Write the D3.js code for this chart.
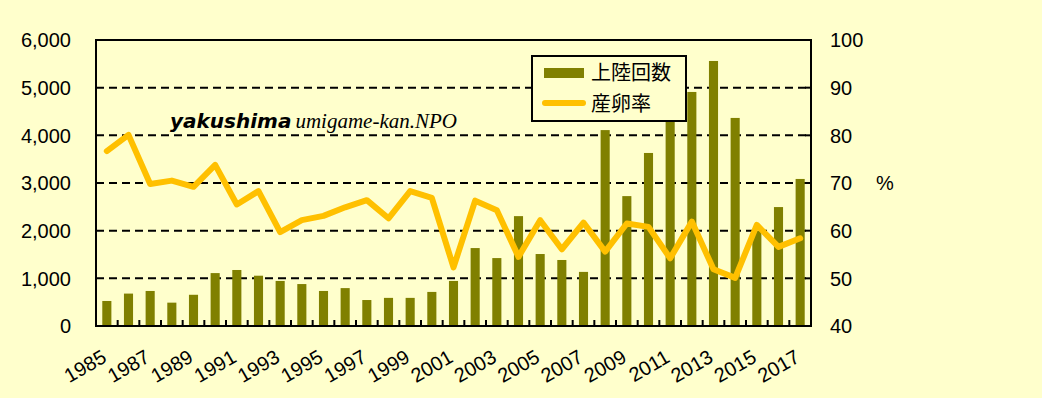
<!DOCTYPE html>
<html>
<head>
<meta charset="utf-8">
<script src="https://cdn.jsdelivr.net/npm/d3@7"></script>
<style>
  html, body { margin: 0; padding: 0; background: #FFFFCC; }
  svg { display: block; }
  text { font-family: "Liberation Sans", Arial, sans-serif; fill: #000; }
</style>
</head>
<body>
<div id="chart"></div>
<script>
// data
const years = d3.range(1985, 2018).map(String);
const landings = [525, 680, 735, 490, 655, 1110, 1175, 1055, 945, 880, 735, 795, 545, 590, 590, 715, 945,
                  1635, 1425, 2305, 1510, 1385, 1135, 4110, 2725, 3630, 4350, 4910, 5560, 4365, 2000, 2495, 3085];
const eggRate = [76.7, 80.1, 69.8, 70.5, 69.2, 73.8, 65.5, 68.3, 59.7, 62.2, 63.1, 64.9, 66.4, 62.6, 68.3, 66.9, 52.3,
                 66.3, 64.3, 54.5, 62.2, 56.1, 61.7, 55.6, 61.5, 60.8, 54.2, 61.9, 51.9, 50.1, 61.2, 56.6, 58.4];
const leftTicks = [0, 1000, 2000, 3000, 4000, 5000, 6000];
const rightTicks = [40, 50, 60, 70, 80, 90, 100];
const yearLabels = years.filter((d, i) => i % 2 === 0);
const seriesNames = ["上陸回数", "産卵率"];

const W = 1042, H = 398;
const plot = { left: 96, right: 811, top: 40, bottom: 326 };
const barColor = "#808000", lineColor = "#FFC000";

const svg = d3.select("#chart").append("svg")
  .attr("width", W).attr("height", H);

svg.append("rect").attr("width", W).attr("height", H).attr("fill", "#FFFFCC");

const x = d3.scaleBand().domain(years).range([plot.left, plot.right]).paddingInner(0.58).paddingOuter(0.29);
const xc = d => x(d) + x.bandwidth() / 2;
const yL = d3.scaleLinear().domain([0, 6000]).range([plot.bottom, plot.top]);
const yR = d3.scaleLinear().domain([40, 100]).range([plot.bottom, plot.top]);

// gridlines
svg.append("g").selectAll("line")
  .data(leftTicks.filter(t => t > 0 && t < 6000))
  .join("line")
  .attr("x1", plot.left).attr("x2", plot.right)
  .attr("y1", d => yL(d)).attr("y2", d => yL(d))
  .attr("stroke", "#000").attr("stroke-width", 2)
  .attr("stroke-dasharray", "8,5");

// bars
svg.append("g").selectAll("rect")
  .data(years)
  .join("rect")
  .attr("x", d => x(d))
  .attr("width", x.bandwidth())
  .attr("y", (d, i) => yL(landings[i]))
  .attr("height", (d, i) => yL(0) - yL(landings[i]))
  .attr("fill", barColor);

// line
const line = d3.line().x((d, i) => xc(years[i])).y(d => yR(d));
svg.append("path")
  .datum(eggRate)
  .attr("d", line)
  .attr("fill", "none")
  .attr("stroke", lineColor)
  .attr("stroke-width", 6)
  .attr("stroke-linejoin", "round")
  .attr("stroke-linecap", "round");

// x ticks at category boundaries (inside)
const step = (plot.right - plot.left) / years.length;
svg.append("g").selectAll("line")
  .data(d3.range(1, years.length))
  .join("line")
  .attr("x1", i => plot.left + i * step).attr("x2", i => plot.left + i * step)
  .attr("y1", plot.bottom).attr("y2", plot.bottom - 6)
  .attr("stroke", "#000").attr("stroke-width", 2);

// right ticks (inside)
svg.append("g").selectAll("line")
  .data(rightTicks.slice(1, -1))
  .join("line")
  .attr("x1", plot.right).attr("x2", plot.right - 6)
  .attr("y1", d => yR(d)).attr("y2", d => yR(d))
  .attr("stroke", "#000").attr("stroke-width", 2);

// plot frame
svg.append("rect")
  .attr("x", plot.left).attr("y", plot.top)
  .attr("width", plot.right - plot.left).attr("height", plot.bottom - plot.top)
  .attr("fill", "none").attr("stroke", "#000").attr("stroke-width", 2);

// left axis labels
const fmt = d3.format(",");
svg.append("g").selectAll("text")
  .data(leftTicks)
  .join("text")
  .attr("x", 71).attr("y", d => yL(d))
  .attr("dy", "0.36em")
  .attr("text-anchor", "end")
  .style("font-size", "20px")
  .text(d => fmt(d));

// right axis labels
svg.append("g").selectAll("text")
  .data(rightTicks)
  .join("text")
  .attr("x", 830).attr("y", d => yR(d))
  .attr("dy", "0.36em")
  .style("font-size", "20px")
  .text(d => d);

svg.append("text")
  .attr("x", 876).attr("y", yR(70))
  .attr("dy", "0.36em")
  .style("font-size", "20px")
  .text("%");

// x labels, rotated
svg.append("g").selectAll("text")
  .data(yearLabels)
  .join("text")
  .attr("transform", d => `translate(${xc(d) + 1},${plot.bottom + 35}) rotate(-30)`)
  .attr("text-anchor", "end")
  .style("font-size", "20px")
  .text(d => d);

// annotation
const note = svg.append("text")
  .attr("x", 170).attr("y", 128)
  .style("font-size", "20px");
note.append("tspan")
  .style("font-weight", "bold").style("font-style", "italic")
  .style("font-family", "'DejaVu Sans', sans-serif")
  .style("font-size", "20px")
  .text("yakushima");
note.append("tspan")
  .attr("dx", 4)
  .style("font-style", "italic")
  .style("font-family", "'Liberation Serif', serif")
  .style("font-size", "21px")
  .text("umigame-kan.NPO");

// legend
const lg = svg.append("g");
lg.append("rect")
  .attr("x", 532).attr("y", 56).attr("width", 154).attr("height", 65)
  .attr("fill", "#FFFFCC").attr("stroke", "#000").attr("stroke-width", 2);
lg.append("rect")
  .attr("x", 544).attr("y", 68).attr("width", 40).attr("height", 10)
  .attr("fill", barColor);
lg.append("line")
  .attr("x1", 545).attr("x2", 583).attr("y1", 103).attr("y2", 103)
  .attr("stroke", lineColor).attr("stroke-width", 6).attr("stroke-linecap", "round");
lg.selectAll("text.lab")
  .data(seriesNames)
  .join("text")
  .attr("class", "lab")
  .attr("x", 591).attr("y", (d, i) => 73 + i * 31)
  .attr("dy", "0.36em")
  .style("font-family", "'Noto Sans CJK JP', sans-serif")
  .style("font-size", "20px")
  .text(d => d);
</script>
</body>
</html>
